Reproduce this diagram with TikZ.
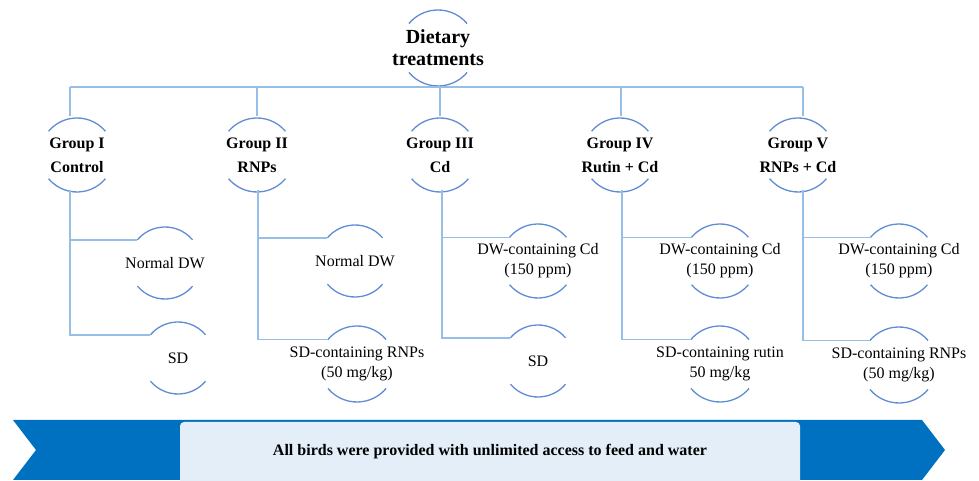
\documentclass[tikz,border=0pt]{standalone}
\usepackage{fontspec}
\setmainfont{LiberationSerif}[Extension=.ttf,UprightFont=*-Regular,BoldFont=*-Bold,ItalicFont=*-Italic,BoldItalicFont=*-BoldItalic]
\definecolor{connc}{RGB}{150,190,232}
\definecolor{arcc}{RGB}{96,140,212}
\definecolor{bannerc}{RGB}{0,112,192}
\definecolor{boxc}{RGB}{228,238,248}
\newcommand\halo[2]{%
 \draw[arcline] ([shift={(40:#2)}]#1.center) arc[start angle=40,end angle=140,radius=#2];
 \draw[arcline] ([shift={(220:#2)}]#1.center) arc[start angle=220,end angle=320,radius=#2];}
\begin{document}
\begin{tikzpicture}[x=1pt,y=1pt,
  conn/.style={draw=connc,line width=1.3pt},
  arcline/.style={draw=arcc,line width=1.3pt},
  rootlbl/.style={font=\rmfamily\fontsize{20}{22}\selectfont\bfseries,align=center,inner sep=0pt},
  grp/.style={font=\rmfamily\fontsize{16}{24}\selectfont\bfseries,align=center,inner sep=0pt},
  item/.style={font=\rmfamily\fontsize{16}{20}\selectfont,align=center,inner sep=0pt}]
\useasboundingbox (0,0) rectangle (979,481);
% nodes
\node[rootlbl] (root) at (438,433) {Dietary\\treatments};
\node[grp] (g1) at (77,326) {Group I\\Control};
\node[grp] (g2) at (257,326) {Group II\\RNPs};
\node[grp] (g3) at (440,326) {Group III\\Cd};
\node[grp] (g4) at (620,326) {Group IV\\Rutin + Cd};
\node[grp] (g5) at (798,326) {Group V\\RNPs + Cd};
\node[item] (c1a) at (165,218) {Normal DW};
\node[item] (c1b) at (178,123) {SD};
\node[item] (c2a) at (355,220) {Normal DW};
\node[item] (c2b) at (357,117) {SD-containing RNPs\\(50 mg/kg)};
\node[item] (c3a) at (538,220) {DW-containing Cd\\(150 ppm)};
\node[item] (c3b) at (538,120) {SD};
\node[item] (c4a) at (720,220) {DW-containing Cd\\(150 ppm)};
\node[item] (c4b) at (720,117) {SD-containing rutin\\50 mg/kg};
\node[item] (c5a) at (899,220) {DW-containing Cd\\(150 ppm)};
\node[item] (c5b) at (899,116) {SD-containing RNPs\\(50 mg/kg)};
% arcs
\halo{root}{38}
\halo{g1}{37}\halo{g2}{37}\halo{g3}{37}\halo{g4}{37}\halo{g5}{37}
\halo{c1a}{36}\halo{c1b}{36}
\halo{c2a}{36}\halo{c2b}{38}
\halo{c3a}{37}\halo{c3b}{36}
\halo{c4a}{37}\halo{c4b}{38}
\halo{c5a}{37}\halo{c5b}{38}
% trunk coordinates
\coordinate (b1) at (70,394);  \coordinate (t1) at (70,365);  \coordinate (d1) at (70,291);
\coordinate (b2) at (257,394); \coordinate (t2) at (257,365); \coordinate (d2) at (258,291);
\coordinate (b3) at (440,394); \coordinate (t3) at (440,365); \coordinate (d3) at (442,291);
\coordinate (b4) at (621,394); \coordinate (t4) at (621,365); \coordinate (d4) at (622,291);
\coordinate (b5) at (803,394); \coordinate (t5) at (803,365); \coordinate (d5) at (803,291);
% connectors
\draw[conn] (b1) -- (b5);
\foreach \i in {1,...,5} {\draw[conn] (b\i) -- (t\i);}
\draw[conn] (d1) |- ([shift={(140:36)}]c1a.center);
\draw[conn] (d1) |- ([shift={(140:36)}]c1b.center);
\draw[conn] (d2) |- ([shift={(140:36)}]c2a.center);
\draw[conn] (d2) |- ([shift={(140:38)}]c2b.center);
\draw[conn] (d3) |- ([shift={(140:37)}]c3a.center);
\draw[conn] (d3) |- ([shift={(140:36)}]c3b.center);
\draw[conn] (d4) |- ([shift={(140:37)}]c4a.center);
\draw[conn] (d4) |- ([shift={(140:38)}]c4b.center);
\draw[conn] (d5) |- ([shift={(140:37)}]c5a.center);
\draw[conn] (d5) |- ([shift={(140:38)}]c5b.center);
% banner
\fill[bannerc] (13,61) -- (922,61) -- (945,31) -- (922,1) -- (13,1) -- (36,31) -- cycle;
\fill[boxc] [rounded corners=4pt] (180,0) |- (800,59) [sharp corners] -- (800,0) -- cycle;
\node[font=\rmfamily\fontsize{16}{20}\selectfont\bfseries,inner sep=0pt] (note) at (490,29) {All birds were provided with unlimited access to feed and water};
\end{tikzpicture}
\end{document}
